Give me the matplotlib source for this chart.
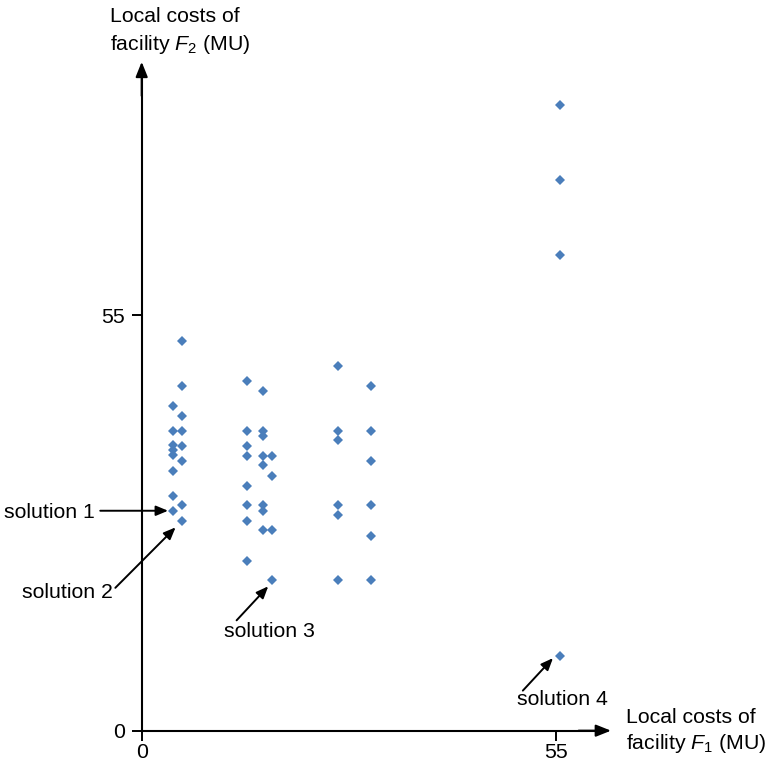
import matplotlib
matplotlib.use("Agg")
import matplotlib.pyplot as plt

plt.rcParams["font.family"] = ["Liberation Sans", "DejaVu Sans"]
plt.rcParams["mathtext.fontset"] = "custom"
plt.rcParams["mathtext.rm"] = "Liberation Sans"
plt.rcParams["mathtext.it"] = "Liberation Sans:italic"

# ── data (local costs F1, F2 in MU) ───────────────────────────
col_x = [4.1, 5.3, 14.0, 16.1, 17.3, 26.1, 30.4, 55.5]
col_y = [
    [43.0, 39.7, 37.8, 37.1, 36.5, 34.4, 31.1, 29.1],
    [51.6, 45.6, 41.6, 39.7, 37.7, 35.7, 29.8, 27.8],
    [46.3, 39.7, 37.7, 36.4, 32.4, 29.8, 27.8, 22.5],
    [45.0, 39.7, 39.0, 36.4, 35.1, 29.8, 29.1, 26.5],
    [36.4, 33.7, 26.5, 19.9],
    [48.3, 39.7, 38.4, 29.8, 28.5, 19.9],
    [45.6, 39.7, 35.7, 29.8, 25.8, 19.9],
    [82.8, 72.8, 62.9, 9.9],
]
xs = [x for x, ys in zip(col_x, col_y) for _ in ys]
ys = [y for yy in col_y for y in yy]

ticks = [0, 55]
sol_labels = ["solution 1", "solution 2", "solution 3", "solution 4"]
sol_tips = [(3.5, 29.1), (4.5, 26.9), (16.8, 19.1), (54.6, 9.6)]
sol_starts = [(-5.5, 29.1), (-3.5, 18.9), (12.6, 14.6), (50.6, 5.3)]
sol_text = [(-6.2, 28.9), (-9.8, 18.3), (17.0, 13.1), (55.9, 4.1)]
sol_ha = ["right", "center", "center", "center"]

FS = 15.3
BLUE = "#4a7ebb"

fig = plt.figure(figsize=(7.66, 7.64), dpi=100)
ax = fig.add_axes([0, 0, 1, 1])
ax.set_xlim(-18.81, 82.88)
ax.set_ylim(-4.41, 96.68)
ax.patch.set_alpha(0)

# ── axes with arrows ──────────────────────────────────────────
for s in ["top", "right"]:
    ax.spines[s].set_visible(False)
ax.spines["left"].set_position(("data", 0))
ax.spines["bottom"].set_position(("data", 0))
ax.spines["left"].set_bounds(0, 87.0)
ax.spines["bottom"].set_bounds(0, 60.8)
ax.spines["left"].set_linewidth(1.5)
ax.spines["bottom"].set_linewidth(1.5)
arrow_axis = dict(arrowstyle="-|>,head_length=0.6,head_width=0.24",
                  mutation_scale=15, color="black", lw=1.5,
                  shrinkA=0, shrinkB=0)
ax.annotate("", xy=(0, 88.5), xytext=(0, 84), arrowprops=arrow_axis)
ax.annotate("", xy=(62.3, 0), xytext=(58, 0), arrowprops=arrow_axis)

ax.set_xticks(ticks)
ax.set_yticks(ticks)
ax.tick_params(direction="out", length=7.5, width=1.4, labelsize=FS)
ax.tick_params(axis="x", pad=1.5)
ax.tick_params(axis="y", pad=4.5)

# ── axis labels ───────────────────────────────────────────────
ax.text(-4.2, 93.8, "Local costs of", fontsize=FS, ha="left", va="baseline")
ax.text(-4.2, 90.1, r"facility $F_2$ (MU)", fontsize=FS, ha="left", va="baseline")
ax.text(64.3, 1.06, "Local costs of", fontsize=FS, ha="left", va="baseline")
ax.text(64.3, -2.46, r"facility $F_1$ (MU)", fontsize=FS, ha="left", va="baseline")

# ── points ────────────────────────────────────────────────────
ax.plot(xs, ys, linestyle="none", marker="D", markersize=5.2,
        markeredgewidth=0, color=BLUE, zorder=3)

# ── solution annotations ──────────────────────────────────────
arrow_sol = dict(arrowstyle="-|>,head_length=0.6,head_width=0.25",
                 mutation_scale=12, color="black", lw=1.4,
                 shrinkA=0, shrinkB=0)
for lab, tip, st, tp, ha in zip(sol_labels, sol_tips, sol_starts, sol_text, sol_ha):
    ax.annotate("", xy=tip, xytext=st, arrowprops=arrow_sol)
    ax.text(tp[0], tp[1], lab, fontsize=FS, ha=ha, va="center")

fig.savefig("out.png", dpi=100)
